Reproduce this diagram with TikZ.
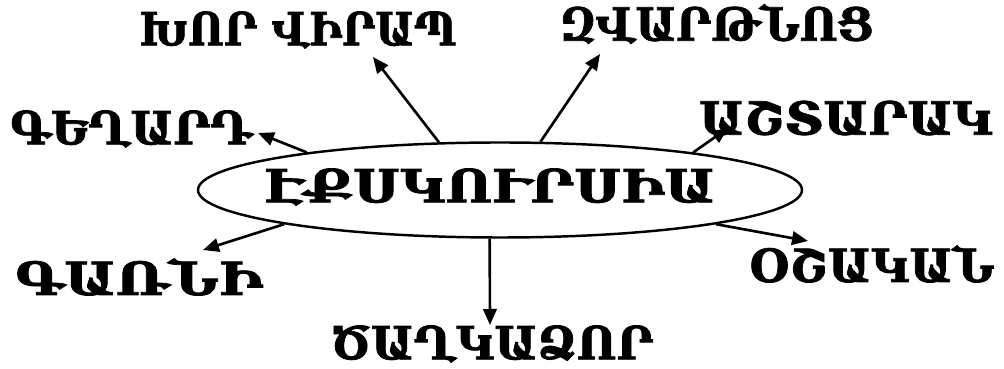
\documentclass[tikz,border=0pt]{standalone}
\usepackage{fontspec}
\setmainfont{DejaVu Serif}[BoldFeatures={FakeBold=1.6}]
\usepackage{xcolor}
\definecolor{ink}{HTML}{000000}
\usepackage{tikz}
\usetikzlibrary{arrows.meta,shapes.geometric}
\tikzset{
  place/.style = {inner sep=0pt, text=ink,
                  font=\fontsize{26}{28}\selectfont\bfseries},
  hub/.style   = {ellipse, draw=ink, line width=1.4pt, inner sep=0pt,
                  minimum width=120.8mm, minimum height=19mm},
  arr/.style   = {-{Triangle[length=3.2mm, width=2.7mm]}, line width=1.5pt, draw=ink}
}
\begin{document}
\begin{tikzpicture}[x=0.2mm, y=-0.2mm]
  \useasboundingbox (0,0) rectangle (1004,369);
  \node[hub] (excursion) at (500,190) {};
  \node[place, xscale=1.18] (exctext) at (490,187) {ԷՔՍԿՈՒՐՍԻԱ};
  \node[place, xscale=0.9] (khorvirap) at (298,30) {ԽՈՐ ՎԻՐԱՊ};
  \node[place, xscale=0.95] (zvartnots) at (717,24) {ԶՎԱՐԹՆՈՑ};
  \node[place] (geghard) at (131,129) {ԳԵՂԱՐԴ};
  \node[place, xscale=1.05] (ashtarak) at (846,118) {ԱՇՏԱՐԱԿ};
  \node[place, xscale=1.2] (garni) at (139,277) {ԳԱՌՆԻ};
  \node[place] (oshakan) at (872,264) {ՕՇԱԿԱՆ};
  \node[place] (tsaghkadzor) at (492,344) {ԾԱՂԿԱՁՈՐ};
  \foreach \s/\t/\dx/\dy in {142/khorvirap/75/27, 50/zvartnots/-117/30,
      169/geghard/127/4, 11/ashtarak/-118/10, 189/garni/64/-27,
      -9/oshakan/-64/-23, 258/tsaghkadzor/-2/-19}
    \draw[arr] (excursion.\s) -- ([shift={(\dx,\dy)}]\t.center);
\end{tikzpicture}
\end{document}
